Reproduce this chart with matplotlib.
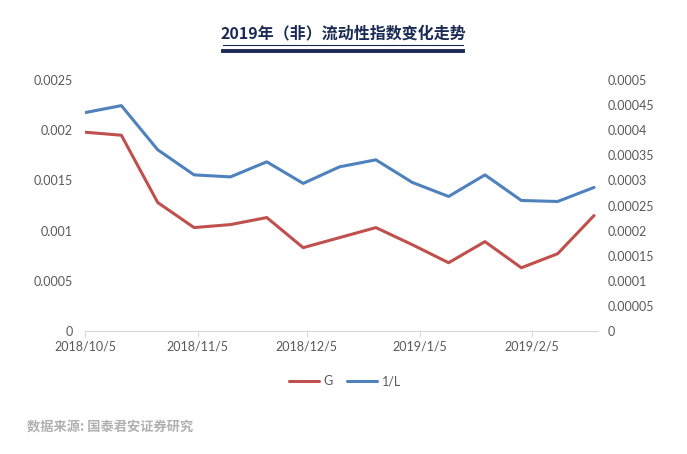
import numpy as np
import pandas as pd
import matplotlib
matplotlib.use("Agg")
import matplotlib.pyplot as plt
import matplotlib.dates as mdates

plt.rcParams['font.family'] = ['Lato', 'Noto Sans CJK SC', 'DejaVu Sans']

# data
dates = pd.date_range("2018-10-05", periods=15, freq="10D")
g_vals = [0.00198, 0.00195, 0.00128, 0.00103, 0.00106, 0.00113, 0.00083, 0.00093,
          0.00103, 0.00086, 0.00068, 0.00089, 0.00063, 0.00077, 0.00115]
inv_l = [0.000435, 0.000449, 0.000361, 0.000311, 0.000307, 0.000337, 0.000294, 0.000327,
         0.000341, 0.000296, 0.000268, 0.000311, 0.000260, 0.000258, 0.000286]
tick_dates = pd.to_datetime(["2018-10-05", "2018-11-05", "2018-12-05", "2019-01-05", "2019-02-05"])
tick_labels = ["2018/10/5", "2018/11/5", "2018/12/5", "2019/1/5", "2019/2/5"]
left_ticks = [0, 0.0005, 0.001, 0.0015, 0.002, 0.0025]
left_labels = ["0", "0.0005", "0.001", "0.0015", "0.002", "0.0025"]
right_ticks = [0, 0.00005, 0.0001, 0.00015, 0.0002, 0.00025, 0.0003, 0.00035, 0.0004, 0.00045, 0.0005]
right_labels = ["0", "0.00005", "0.0001", "0.00015", "0.0002", "0.00025", "0.0003",
                "0.00035", "0.0004", "0.00045", "0.0005"]

red = "#C0504D"
blue = "#4F81BD"
gray = "#595959"

fig = plt.figure(figsize=(6.87, 4.54), dpi=100)
ax = fig.add_axes([0.1237, 0.2709, 0.7463, 0.5529])
ax2 = ax.twinx()

l1, = ax.plot(dates, g_vals, color=red, lw=2.2, label="G", solid_capstyle="round")
l2, = ax2.plot(dates, inv_l, color=blue, lw=2.2, label="1/L", solid_capstyle="round")

ax.set_xlim(pd.Timestamp("2018-10-05"), pd.Timestamp("2019-02-23"))
ax.set_ylim(0, 0.0025)
ax2.set_ylim(0, 0.0005)

ax.set_xticks(tick_dates)
ax.set_xticklabels(tick_labels)
ax.set_yticks(left_ticks)
ax.set_yticklabels(left_labels)
ax2.set_yticks(right_ticks)
ax2.set_yticklabels(right_labels)

for a in (ax, ax2):
    for s in ("top", "left", "right"):
        a.spines[s].set_visible(False)
    a.spines["bottom"].set_color("#d9d9d9")
ax.tick_params(axis="x", colors="#d9d9d9", labelcolor=gray, labelsize=9, length=4, pad=3)
ax.tick_params(axis="y", length=0, labelcolor=gray, labelsize=9, pad=9)
ax2.tick_params(axis="y", length=0, labelcolor=gray, labelsize=9, pad=7)

# title with underline bars
fig.text(0.5, 1 - 33 / 454, "2019年（非）流动性指数变化走势", ha="center", va="center",
         fontsize=11.5, fontweight="bold", color="#1b2a55", family=['Noto Sans CJK SC', 'DejaVu Sans'])
fig.add_artist(plt.Line2D([223 / 687, 463 / 687], [1 - 45 / 454] * 2, color="#1b2a55", lw=0.8))
fig.add_artist(plt.Line2D([223 / 687, 463 / 687], [1 - 50.5 / 454] * 2, color="#1b2a55", lw=2.8))

fig.legend(handles=[l1, l2], loc="center", bbox_to_anchor=(345 / 687, 1 - 381 / 454), ncol=2,
           frameon=False, fontsize=9, handlelength=2.4, columnspacing=1.1, handletextpad=0.4,
           labelcolor=gray)

fig.text(27 / 687, 1 - 427 / 454, "数据来源: 国泰君安证券研究", ha="left", va="center",
         fontsize=9.5, fontweight="bold", color="#b0b0b0", family=['Noto Sans CJK SC', 'DejaVu Sans'])

fig.savefig("out.png", dpi=100)
